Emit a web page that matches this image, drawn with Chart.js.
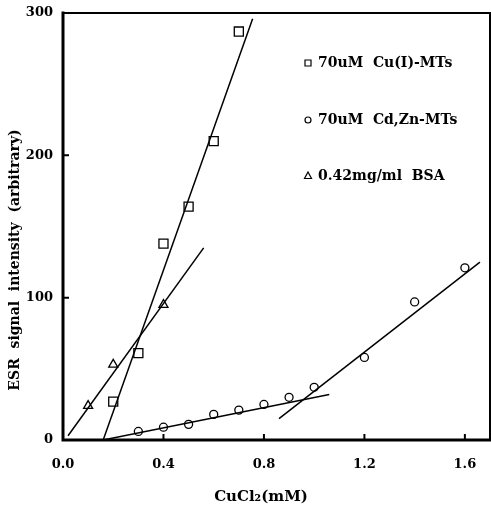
<!DOCTYPE html>
<html>
<head>
<meta charset="utf-8">
<script src="https://cdn.jsdelivr.net/npm/chart.js@4.4.0/dist/chart.umd.min.js"></script>
<style>
  html, body { margin: 0; padding: 0; background: #fff; }
</style>
</head>
<body>
<canvas id="chart" width="491" height="512"></canvas>
<script>
// ---------------- Data ----------------
const cuX = [0.2, 0.3, 0.4, 0.5, 0.6, 0.7];
const cuY = [27, 61, 138, 164, 210, 287];
const cdX = [0.3, 0.4, 0.5, 0.6, 0.7, 0.8, 0.9, 1.0, 1.2, 1.4, 1.6];
const cdY = [6, 9, 11, 18, 21, 25, 30, 37, 58, 97, 121];
const bsaX = [0.1, 0.2, 0.4];
const bsaY = [24, 53, 95];

// fitted lines (end points)
const cuFitX = [0.16, 0.755];
const cuFitY = [0, 296];
const bsaFitX = [0.02, 0.56];
const bsaFitY = [3, 135];
const cdFit1X = [0.16, 1.06];
const cdFit1Y = [0, 32];
const cdFit2X = [0.86, 1.66];
const cdFit2Y = [15, 125];

const xTicks = [0, 0.4, 0.8, 1.2, 1.6];
const yTicks = [0, 100, 200, 300];
const legendLabels = ["70uM  Cu(I)-MTs", "70uM  Cd,Zn-MTs", "0.42mg/ml  BSA"];
const xTitle = "CuCl\u2082(mM)";
const yTitle = "ESR  signal  intensity  (arbitrary)";

const FONT = "DejaVu Serif";
const pts = (xs, ys) => xs.map((x, i) => ({ x, y: ys[i] }));

function marker(data, style, radius) {
  return { data, showLine: false, pointStyle: style, pointRadius: radius, pointHoverRadius: radius,
           pointBackgroundColor: "#fff", pointBorderColor: "#000", pointBorderWidth: 1.3 };
}
function fitLine(data) {
  return { data, showLine: true, pointRadius: 0, borderColor: "#000", borderWidth: 1.5 };
}
const noPad = s => { s.paddingLeft = 0; s.paddingRight = 0; s.paddingTop = 0; s.paddingBottom = 0; };

// ---------------- Frame, ticks, titles, legend ----------------
const decor = {
  id: "decor",
  afterDraw(chart) {
    const { ctx, chartArea: a, scales: { x, y } } = chart;
    ctx.save();
    ctx.strokeStyle = "#000";
    ctx.lineCap = "square";
    // frame
    ctx.lineWidth = 2;
    ctx.beginPath();
    ctx.moveTo(a.left, a.top); ctx.lineTo(a.right, a.top); ctx.lineTo(a.right, a.bottom);
    ctx.stroke();
    ctx.lineWidth = 3;
    ctx.beginPath();
    ctx.moveTo(a.left, a.top); ctx.lineTo(a.left, a.bottom); ctx.lineTo(a.right, a.bottom);
    ctx.stroke();
    // inner ticks
    ctx.lineWidth = 2;
    ctx.beginPath();
    xTicks.forEach(v => { const px = x.getPixelForValue(v); ctx.moveTo(px, a.bottom); ctx.lineTo(px, a.bottom - 5); });
    yTicks.forEach(v => { const py = y.getPixelForValue(v); ctx.moveTo(a.left, py); ctx.lineTo(a.left + 5, py); });
    ctx.stroke();

    // axis titles
    ctx.fillStyle = "#000";
    ctx.textAlign = "center";
    ctx.textBaseline = "middle";
    ctx.font = `bold 15px "${FONT}"`;
    ctx.fillText(xTitle, 261, 497);
    ctx.save();
    ctx.translate(15, 260);
    ctx.rotate(-Math.PI / 2);
    ctx.font = `bold 14px "${FONT}"`;
    ctx.fillText(yTitle, 0, 0);
    ctx.restore();

    // legend
    const rows = [63, 120, 176];
    const styles = ["rect", "circle", "triangle"];
    ctx.font = `bold 14px "${FONT}"`;
    ctx.textAlign = "left";
    ctx.lineWidth = 1.2;
    rows.forEach((ry, i) => {
      const mx = 308;
      ctx.beginPath();
      if (styles[i] === "rect") ctx.rect(mx - 3, ry - 3, 6, 6);
      else if (styles[i] === "circle") ctx.arc(mx, ry, 3, 0, Math.PI * 2);
      else { ctx.moveTo(mx, ry - 4); ctx.lineTo(mx + 3.5, ry + 2.5); ctx.lineTo(mx - 3.5, ry + 2.5); ctx.closePath(); }
      ctx.stroke();
      ctx.fillText(legendLabels[i], 318, ry);
    });
    ctx.restore();
  }
};

new Chart(document.getElementById("chart"), {
  type: "scatter",
  data: {
    datasets: [
      fitLine(pts(cuFitX, cuFitY)),
      fitLine(pts(bsaFitX, bsaFitY)),
      fitLine(pts(cdFit1X, cdFit1Y)),
      fitLine(pts(cdFit2X, cdFit2Y)),
      marker(pts(cuX, cuY), "rect", 6.4),
      marker(pts(cdX, cdY), "circle", 4),
      marker(pts(bsaX, bsaY), "triangle", 5.2),
    ]
  },
  options: {
    responsive: false,
    animation: false,
    layout: { autoPadding: false, padding: { left: 0, right: 1, top: 13, bottom: 0 } },
    plugins: { legend: { display: false }, tooltip: { enabled: false } },
    scales: {
      x: {
        type: "linear", min: 0, max: 1.7,
        afterBuildTicks: s => { s.ticks = xTicks.map(v => ({ value: v })); },
        afterFit: s => { s.height = 72; noPad(s); },
        grid: { display: false, drawTicks: false },
        border: { display: false },
        ticks: { padding: 17, color: "#000", maxRotation: 0, font: { family: FONT, weight: "bold", size: 13 },
                 callback: v => Number(v).toFixed(1) }
      },
      y: {
        type: "linear", min: 0, max: 300,
        afterBuildTicks: s => { s.ticks = yTicks.map(v => ({ value: v })); },
        afterFit: s => { s.width = 63; noPad(s); },
        grid: { display: false, drawTicks: false },
        border: { display: false },
        ticks: { padding: 10, color: "#000", font: { family: FONT, weight: "bold", size: 13 } }
      }
    }
  },
  plugins: [decor]
});
</script>
</body>
</html>
